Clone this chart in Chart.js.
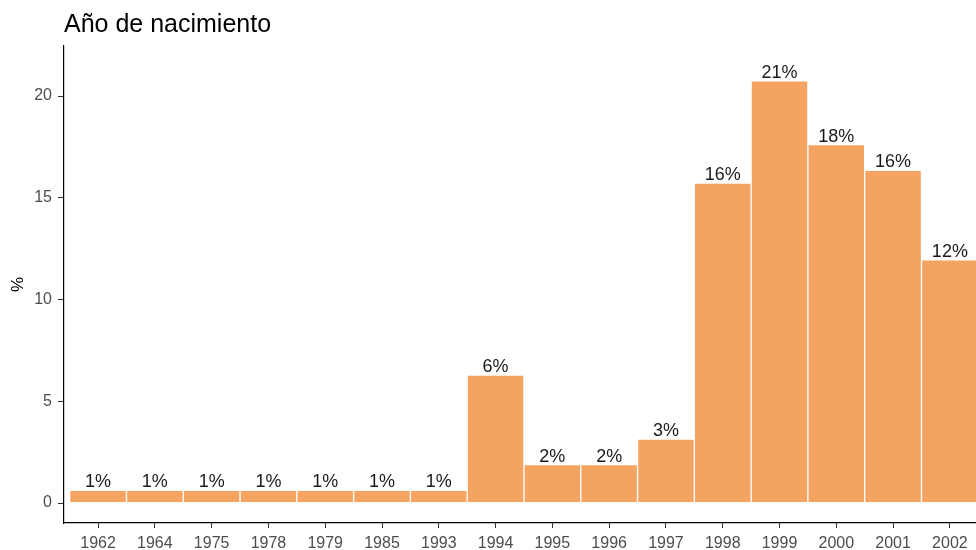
<!DOCTYPE html>
<html>
<head>
<meta charset="utf-8">
<script src="https://cdn.jsdelivr.net/npm/chart.js@4"></script>
<style>
  html, body { margin: 0; padding: 0; background: #fff; overflow: hidden; }
  #wrap { width: 976px; height: 550px; position: relative; }
</style>
</head>
<body>
<div id="wrap"><canvas id="c" width="976" height="550"></canvas></div>
<script>
const categories = ["1962","1964","1975","1978","1979","1985","1993","1994","1995","1996","1997","1998","1999","2000","2001","2002"];
const percents = [0.63,0.63,0.63,0.63,0.63,0.63,0.63,6.29,1.89,1.89,3.14,15.72,20.75,17.61,16.35,11.95];
const yTicks = [0,5,10,15,20];
const titleText = "Año de nacimiento";
const yTitle = "%";

const FONT = "'Liberation Sans', Arial, 'DejaVu Sans', sans-serif";

const titlePlugin = {
  id: 'ggTitle',
  afterDraw(chart) {
    const ctx = chart.ctx;
    ctx.save();
    ctx.font = "25px " + FONT;
    ctx.fillStyle = "#000";
    ctx.textAlign = "left";
    ctx.textBaseline = "alphabetic";
    ctx.fillText(titleText, chart.chartArea.left, 32);
    ctx.restore();
  }
};

const labelPlugin = {
  id: 'barLabels',
  afterDatasetsDraw(chart) {
    const ctx = chart.ctx;
    const meta = chart.getDatasetMeta(0);
    ctx.save();
    ctx.font = "18px " + FONT;
    ctx.fillStyle = "#1a1a1a";
    ctx.textAlign = "center";
    ctx.textBaseline = "alphabetic";
    meta.data.forEach((bar, i) => {
      const v = percents[i];
      ctx.fillText(Math.round(v) + "%", bar.x, bar.y - 3);
    });
    ctx.restore();
  }
};

new Chart(document.getElementById('c'), {
  type: 'bar',
  data: {
    datasets: [{
      data: percents.map((v, i) => ({x: i, y: v})),
      backgroundColor: '#F4A460',
      borderColor: '#FFFFFF',
      borderWidth: 1,
      borderSkipped: false,
      barPercentage: 1,
      categoryPercentage: 1
    }]
  },
  options: {
    responsive: false,
    devicePixelRatio: 1,
    animation: false,
    layout: { padding: { top: 46, right: 0, left: 0, bottom: 0 } },
    plugins: {
      legend: { display: false },
      tooltip: { enabled: false },
      title: { display: false }
    },
    scales: {
      x: {
        type: 'linear',
        offset: false,
        min: -0.6,
        max: 15.46,
        afterBuildTicks(scale) {
          scale.ticks = categories.map((c, i) => ({value: i}));
        },
        afterFit(scale) { scale.height = 27; },
        ticks: {
          autoSkip: false,
          maxRotation: 0,
          padding: 6,
          color: '#4D4D4D',
          font: { size: 16, family: FONT },
          callback: (v) => categories[v] !== undefined ? categories[v] : ''
        },
        grid: {
          display: true,
          offset: false,
          drawOnChartArea: false,
          drawTicks: true,
          tickLength: 5,
          color: '#333333',
          lineWidth: 1
        },
        border: { display: true, color: '#000000', width: 1.2 }
      },
      y: {
        min: -0.98,
        max: 22.46,
        afterBuildTicks(scale) {
          scale.ticks = yTicks.map(v => ({value: v}));
        },
        afterFit(scale) { scale.width = 64; },
        title: {
          display: true,
          text: yTitle,
          color: '#000',
          font: { size: 17, family: FONT },
          padding: { top: 8, bottom: 0 }
        },
        ticks: {
          padding: 6,
          color: '#4D4D4D',
          font: { size: 16, family: FONT }
        },
        grid: {
          display: true,
          drawOnChartArea: false,
          drawTicks: true,
          tickLength: 6,
          color: '#333333',
          lineWidth: 1
        },
        border: { display: true, color: '#000000', width: 1.2 }
      }
    }
  },
  plugins: [titlePlugin, labelPlugin]
});
</script>
</body>
</html>
